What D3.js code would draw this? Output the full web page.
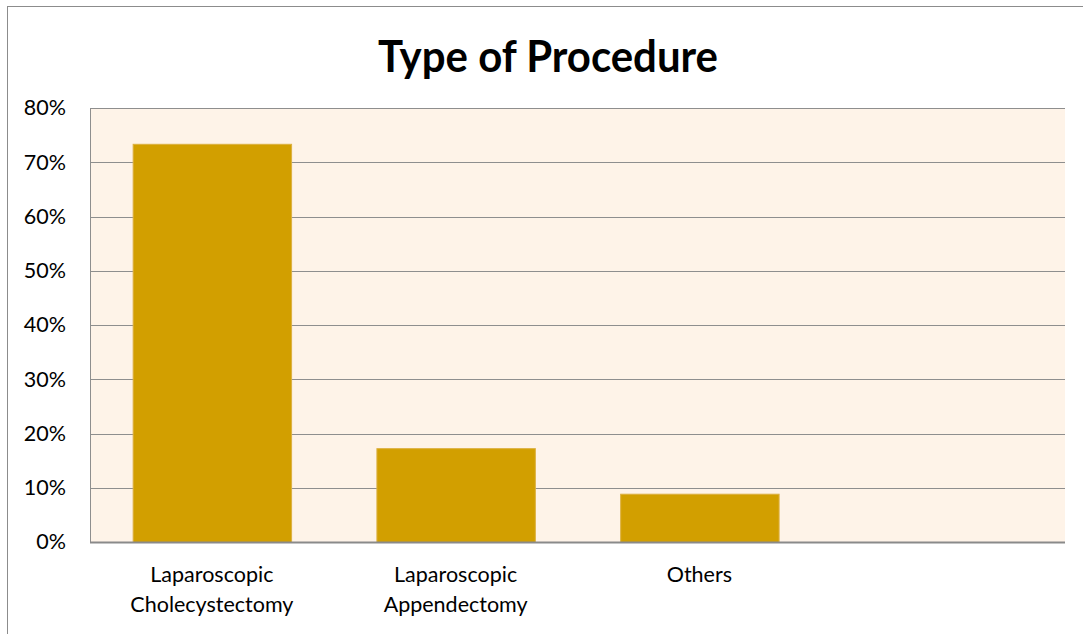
<!DOCTYPE html>
<html>
<head>
<meta charset="utf-8">
<script src="https://cdn.jsdelivr.net/npm/d3@7"></script>
<style>
  body { margin: 0; background: #fff; }
  svg { display: block; font-family: Lato, "Open Sans", sans-serif; }
  .tick line { display: none; }
</style>
</head>
<body>
<div id="chart"></div>
<script>
// data
const categories = ['Laparoscopic\nCholecystectomy', 'Laparoscopic\nAppendectomy', 'Others', '']
const values = [0.734, 0.173, 0.089, null]
const yTicks = [0, 0.1, 0.2, 0.3, 0.4, 0.5, 0.6, 0.7, 0.8]

const width = 1083, height = 634
const margin = {top: 108, right: 18, bottom: 92, left: 90}
const w = width - margin.left - margin.right
const h = height - margin.top - margin.bottom

const svg = d3.select('#chart').append('svg')
    .attr('width', width)
    .attr('height', height)

// chart border (runs off the right and bottom)
svg.append('rect')
    .attr('x', 7.5).attr('y', 6.5)
    .attr('width', width).attr('height', height)
    .attr('fill', 'none')
    .attr('stroke', '#8c8c8c')

svg.append('text')
    .attr('x', 548)
    .attr('y', 72)
    .attr('text-anchor', 'middle')
    .attr('font-size', 43)
    .attr('font-weight', 'bold')
    .attr('textLength', 340)
    .attr('lengthAdjust', 'spacingAndGlyphs')
    .text('Type of Procedure')

const g = svg.append('g')
    .attr('transform', 'translate(' + margin.left + ',' + margin.top + ')')

const x = d3.scaleBand()
    .domain(categories.map((c, i) => i))
    .range([0, w])
    .paddingInner(0.35)
    .paddingOuter(0.175)

const y = d3.scaleLinear()
    .domain([0, 0.8])
    .range([h, 0])

g.append('rect')
    .attr('width', w)
    .attr('height', h)
    .attr('fill', '#fef3e8')

// gridlines
g.selectAll('.grid')
  .data(yTicks.slice(1))
  .enter()
    .append('line')
    .attr('x1', 0).attr('x2', w)
    .attr('y1', d => Math.round(y(d)) + 0.5)
    .attr('y2', d => Math.round(y(d)) + 0.5)
    .attr('stroke', '#8e8e8e')

g.append('line')
    .attr('x1', 0.5).attr('x2', 0.5)
    .attr('y1', 0).attr('y2', h)
    .attr('stroke', '#8e8e8e')

g.selectAll('.bar')
  .data(values)
  .enter()
    .filter(d => d != null)
    .append('rect')
    .attr('x', (_, i) => x(i) + 0.5)
    .attr('y', d => y(d) + 0.5)
    .attr('width', x.bandwidth())
    .attr('height', d => h - y(d))
    .attr('fill', '#d29f00')
    .attr('stroke', '#dcb040')

g.append('line')
    .attr('x1', 0).attr('x2', w)
    .attr('y1', h + 0.5).attr('y2', h + 0.5)
    .attr('stroke', '#8a8a8a')
    .attr('stroke-width', 2)

// y axis labels
const yAxis = g.append('g')
    .call(d3.axisLeft(y).tickValues(yTicks).tickFormat(d3.format('.0%')).tickSize(0).tickPadding(24))
yAxis.select('.domain').remove()
yAxis.selectAll('text')
    .attr('font-size', 21.5)
    .attr('fill', '#000')
    .attr('font-family', 'Lato, "Open Sans", sans-serif')

// category labels, split on newline
const xl = g.append('g')
    .attr('transform', 'translate(0,' + h + ')')
xl.selectAll('text')
  .data(categories)
  .enter()
    .append('text')
    .attr('text-anchor', 'middle')
    .attr('font-size', 21.5)
    .attr('transform', (_, i) => 'translate(' + (x(i) + x.bandwidth() / 2) + ',0)')
    .each(function(d) {
      d.split('\n').forEach((line, k) => {
        d3.select(this).append('tspan')
          .attr('x', 0)
          .attr('y', 40 + k * 30)
          .text(line)
      })
    })
</script>
</body>
</html>
